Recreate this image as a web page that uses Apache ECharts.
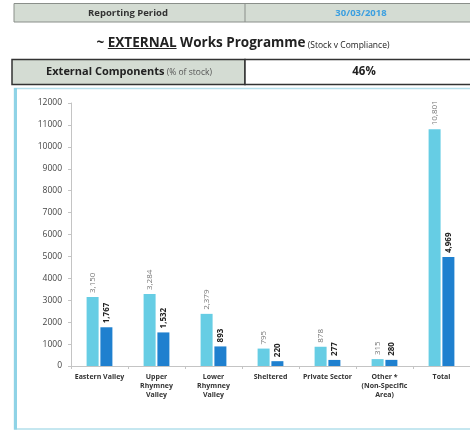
<!DOCTYPE html>
<html>
<head>
<meta charset="utf-8">
<script src="https://cdn.jsdelivr.net/npm/echarts@6/dist/echarts.min.js"></script>
<style>
html,body{margin:0;padding:0;background:#fff;}
#c{width:470px;height:431px;}
</style>
</head>
<body>
<div id="c"></div>
<script>
var categories = ['Eastern Valley', 'Upper\nRhymney\nValley', 'Lower\nRhymney\nValley', 'Sheltered', 'Private Sector', 'Other *\n(Non-Specific\nArea)', 'Total'];
var stockValues = [3150, 3284, 2379, 795, 878, 315, 10801];
var complianceValues = [1767, 1532, 893, 220, 277, 280, 4969];
var yTicks = [0, 1000, 2000, 3000, 4000, 5000, 6000, 7000, 8000, 9000, 10000, 11000, 12000];
var reportingDate = '30/03/2018';
var percentStock = '46%';

var FONT = 'Open Sans';
var cv = document.createElement('canvas').getContext('2d');
function tw(text, size, bold) {
  cv.font = (bold ? 'bold ' : '') + size + 'px "' + FONT + '"';
  return cv.measureText(text).width;
}

// title pieces
var parts = [
  {t: '~ ', s: 13.5, b: true},
  {t: 'EXTERNAL', s: 13.5, b: true, u: true},
  {t: ' Works Programme', s: 13.5, b: true},
  {t: ' (Stock v Compliance)', s: 8.5, b: false}
];
var total = 0;
parts.forEach(function (p) { p.w = tw(p.t, p.s, p.b); total += p.w; });
var tx = 243 - total / 2;
var titleEls = [];
var TY = 50;
parts.forEach(function (p) {
  titleEls.push({
    type: 'text', x: tx, y: TY,
    style: {text: p.t, fill: '#222', font: (p.b ? 'bold ' : '') + p.s + 'px "' + FONT + '"', align: 'left', verticalAlign: 'bottom'}
  });
  if (p.u) {
    titleEls.push({type: 'line', shape: {x1: tx, y1: TY - 1.5, x2: tx + p.w, y2: TY - 1.5}, style: {stroke: '#222', lineWidth: 1.2}});
  }
  tx += p.w;
});

// second row left text
var ec1 = 'External Components', ec2 = ' (% of stock)';
var w1 = tw(ec1, 11, true), w2 = tw(ec2, 8.5, false);
var ecx = 129 - (w1 + w2) / 2;

var graphics = [
  // row 1
  {type: 'rect', shape: {x: 14, y: 3.5, width: 470, height: 18.5}, style: {fill: '#d4dcd3', stroke: '#8a8f8a', lineWidth: 1}},
  {type: 'line', shape: {x1: 245, y1: 3.5, x2: 245, y2: 22}, style: {stroke: '#8a8f8a', lineWidth: 1}},
  {type: 'text', x: 128, y: 13, style: {text: 'Reporting Period', fill: '#333', font: 'bold 9.5px "' + FONT + '"', align: 'center', verticalAlign: 'middle'}},
  {type: 'text', x: 361, y: 13, style: {text: reportingDate, fill: '#3b9fe0', font: 'bold 9.5px "' + FONT + '"', align: 'center', verticalAlign: 'middle'}},
  // row 2
  {type: 'rect', shape: {x: 12, y: 59.5, width: 233, height: 25}, style: {fill: '#d4dcd3', stroke: '#333', lineWidth: 1.5}},
  {type: 'rect', shape: {x: 245, y: 59.5, width: 240, height: 25}, style: {fill: '#fff', stroke: '#333', lineWidth: 1.5}},
  {type: 'text', x: ecx, y: 72, style: {text: ec1, fill: '#222', font: 'bold 11px "' + FONT + '"', align: 'left', verticalAlign: 'middle'}},
  {type: 'text', x: ecx + w1, y: 72.5, style: {text: ec2, fill: '#555', font: '8.5px "' + FONT + '"', align: 'left', verticalAlign: 'middle'}},
  {type: 'text', x: 364, y: 72, style: {text: percentStock, fill: '#222', font: 'bold 11.5px "' + FONT + '"', align: 'center', verticalAlign: 'middle'}},
  // chart box
  {type: 'rect', shape: {x: 14.5, y: 88.5, width: 470, height: 340.5}, style: {fill: 'none', stroke: '#b3dfec', lineWidth: 1.5}},
  {type: 'line', shape: {x1: 15.5, y1: 88, x2: 15.5, y2: 429.5}, style: {stroke: '#8fd3e6', lineWidth: 3}}
].concat(titleEls);

var chart = echarts.init(document.getElementById('c'), null, {renderer: 'canvas'});
chart.setOption({
  animation: false,
  textStyle: {fontFamily: FONT},
  grid: {left: 71, right: 0, top: 103, bottom: 65, containLabel: false},
  xAxis: {
    type: 'category',
    data: categories,
    axisLine: {lineStyle: {color: '#c4c4c4', width: 1}},
    axisTick: {show: true, length: 3, lineStyle: {color: '#c4c4c4'}},
    axisLabel: {interval: 0, fontSize: 7, fontWeight: 'bold', color: '#333', lineHeight: 9, margin: 6, fontFamily: FONT}
  },
  yAxis: {
    type: 'value',
    min: yTicks[0], max: yTicks[yTicks.length - 1], interval: 1000,
    splitLine: {show: false},
    axisLine: {show: true, lineStyle: {color: '#c4c4c4'}},
    axisTick: {show: true, length: 3, lineStyle: {color: '#c4c4c4'}},
    axisLabel: {fontSize: 8.5, color: '#444', margin: 9, fontFamily: FONT,
      formatter: function (v) { return String(v); }}
  },
  series: [
    {
      name: 'Stock', type: 'bar', data: stockValues, barWidth: 12, barGap: '15%',
      itemStyle: {color: '#66cde4'},
      label: {show: true, position: 'top', rotate: 90, align: 'left', verticalAlign: 'middle', distance: 4,
        fontSize: 8, color: '#777', fontFamily: FONT,
        formatter: function (p) { return p.value.toLocaleString('en-US'); }}
    },
    {
      name: 'Compliance', type: 'bar', data: complianceValues, barWidth: 12,
      itemStyle: {color: '#1f80cf'},
      label: {show: true, position: 'top', rotate: 90, align: 'left', verticalAlign: 'middle', distance: 4,
        fontSize: 8, fontWeight: 'bold', color: '#222', fontFamily: FONT,
        formatter: function (p) { return p.value.toLocaleString('en-US'); }}
    }
  ],
  graphic: graphics
});
</script>
</body>
</html>
